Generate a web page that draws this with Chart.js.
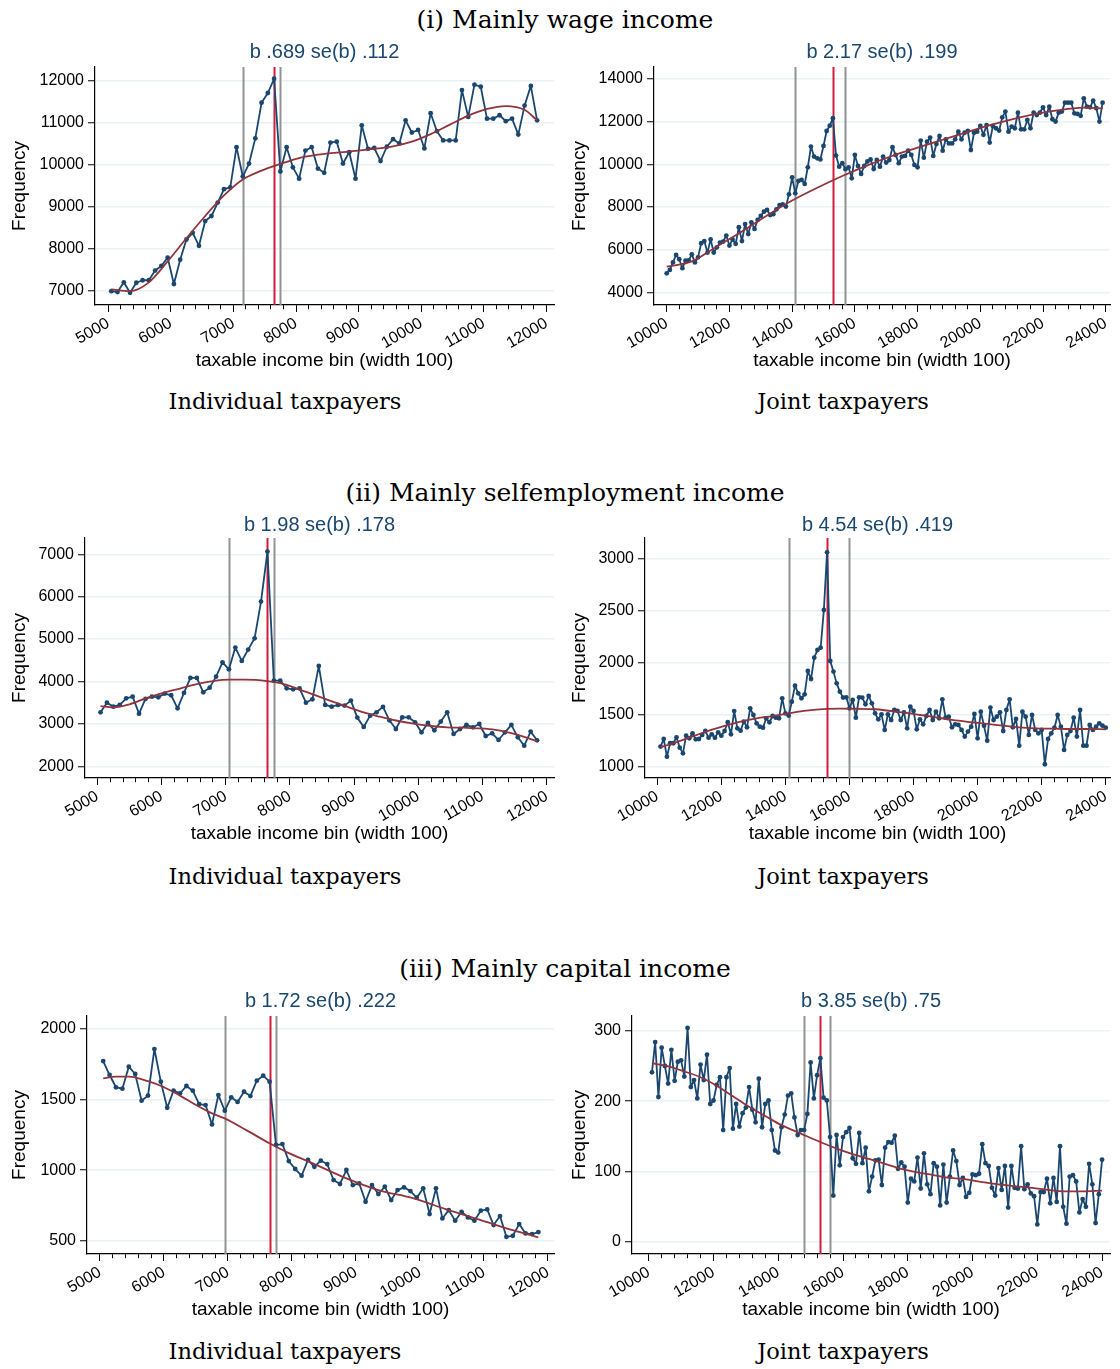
<!DOCTYPE html>
<html lang="en">
<head>
<meta charset="UTF-8">
<title>Bunching at the kink</title>
<script src="https://cdn.jsdelivr.net/npm/chart.js@4"></script>
<style>
    body { margin: 0; background: #fff; }
    .page { position: relative; width: 1120px; height: 1369px; overflow: hidden; background: #fff; }
    .sec { position: absolute; left: 0; width: 1130px; text-align: center; font-family: "DejaVu Serif", serif; font-size: 25px; line-height: 30px; color: #000; }
    .sub { position: absolute; width: 560px; text-align: center; font-family: "DejaVu Serif", serif; font-size: 22.5px; line-height: 28px; color: #000; }
    canvas { position: absolute; }
</style>
</head>
<body>
<div class="page">
    <div class="sec" style="top:5px">(i) Mainly wage income</div>
    <canvas id="wageInd" width="560" height="340" style="left:0;top:38px"></canvas>
    <canvas id="wageJoint" width="560" height="340" style="left:560px;top:38px"></canvas>
    <div class="sub" style="left:5px;top:387px">Individual taxpayers</div>
    <div class="sub" style="left:563px;top:387px">Joint taxpayers</div>

    <div class="sec" style="top:478px">(ii) Mainly selfemployment income</div>
    <canvas id="selfInd" width="560" height="340" style="left:0;top:511px"></canvas>
    <canvas id="selfJoint" width="560" height="340" style="left:560px;top:511px"></canvas>
    <div class="sub" style="left:5px;top:862px">Individual taxpayers</div>
    <div class="sub" style="left:563px;top:862px">Joint taxpayers</div>

    <div class="sec" style="top:954px">(iii) Mainly capital income</div>
    <canvas id="capInd" width="560" height="340" style="left:0;top:987px"></canvas>
    <canvas id="capJoint" width="560" height="340" style="left:560px;top:987px"></canvas>
    <div class="sub" style="left:5px;top:1337px">Individual taxpayers</div>
    <div class="sub" style="left:563px;top:1337px">Joint taxpayers</div>
</div>
<script>
// tick labels
var indivXLabels = [5000, 6000, 7000, 8000, 9000, 10000, 11000, 12000];
var jointXLabels = [10000, 12000, 14000, 16000, 18000, 20000, 22000, 24000];

// kink and excluded band (taxable income)
var kinkInd = 7650;
var kinkJoint = 15300;

// (i) wage, individual: bins start 5050, width 100
var wageIndStart = 5050;
var wageIndFreq = [6990, 6970, 7200, 6950, 7190, 7250, 7250, 7480, 7590, 7790,
    7160, 7740, 8220, 8380, 8070, 8660, 8780, 9100, 9420, 9460,
    10420, 9720, 10030, 10630, 11480, 11710, 12050, 9840, 10420, 9940,
    9670, 10340, 10420, 9910, 9810, 10530, 10550, 10030, 10300, 9670,
    10940, 10380, 10400, 10090, 10430, 10610, 10510, 11060, 10770, 10830,
    10390, 11230, 10800, 10580, 10580, 10580, 11780, 11140, 11910, 11860,
    11100, 11100, 11180, 11040, 11100, 10720, 11410, 11880, 11060];
var wageIndFitX = [5050, 5350, 5650, 5950, 6250, 6550, 6850, 7150, 7450, 7750, 8050, 8350, 8650, 8950, 9250, 9550, 9850, 10150, 10450, 10750, 11050, 11350, 11650, 11850];
var wageIndFitY = [7030, 6990, 7200, 7700, 8250, 8780, 9270, 9650, 9860, 10020, 10160, 10240, 10290, 10330, 10380, 10440, 10550, 10730, 10950, 11170, 11330, 11400, 11310, 11060];
var wageIndBand = [7150, 7750];
var wageIndTicksY = [7000, 8000, 9000, 10000, 11000, 12000];

// (i) wage, joint
var wageJointStart = 10000;
var wageJointFreq = [4890, 5050, 5400, 5750, 5550, 5130, 5480, 5500, 5780, 5400,
    5640, 6300, 6400, 5860, 6480, 5860, 6110, 6330, 6380, 6660,
    6190, 6480, 6270, 7050, 6400, 7200, 6730, 7280, 6970, 7390,
    7580, 7780, 7860, 7620, 7660, 7890, 8090, 8120, 8020, 8590,
    9390, 8640, 9220, 9270, 9080, 9860, 10830, 10360, 10280, 10230,
    10860, 11560, 11810, 12160, 10410, 9890, 10050, 9770, 9860, 9340,
    10440, 9920, 9550, 9920, 10130, 10230, 9780, 10200,
    9890, 10360, 10080, 10200, 10800, 10440, 10050, 10360, 10390, 10640,
    10440, 9970, 9860, 11110, 10310, 11060, 11250, 10390, 10950, 11330,
    10640, 11170, 10980, 10980, 11170, 11530, 11170, 11480, 11560, 10670,
    11480, 11530, 11800, 11380, 11840, 11020, 11800, 11690, 11580, 12200,
    12470, 11530, 11770, 11690, 12420, 11640, 11640, 12080, 11690, 12420,
    12310, 12420, 12670, 12310, 12700, 12110, 12000, 12420, 12470, 12890,
    12890, 12890, 12390, 12360, 12270, 13090, 12700, 12670, 12980, 12630,
    12000, 12890];
var wageJointFitX = [10000, 10800, 11600, 12400, 13200, 14000, 14800, 15600, 16400, 17200, 18000, 18800, 19600, 20400, 21200, 22000, 22800, 23400, 23900];
var wageJointFitY = [5200, 5450, 6150, 6850, 7600, 8300, 8900, 9450, 9950, 10400, 10780, 11150, 11520, 11870, 12180, 12420, 12600, 12660, 12620];
var wageJointBand = [14100, 15700];
var wageJointTicksY = [4000, 6000, 8000, 10000, 12000, 14000];

// (ii) selfemployment, individual
var selfIndStart = 5050;
var selfIndFreq = [3274, 3500, 3407, 3447, 3604, 3643, 3242, 3588, 3643, 3627,
    3714, 3675, 3368, 3730, 4083, 4083, 3745, 3855, 4115, 4453,
    4288, 4799, 4484, 4752, 5019, 5884, 7063, 4020, 4020, 3840,
    3816, 3840, 3500, 3580, 4366, 3447, 3407, 3447, 3431, 3549,
    3148, 2928, 3195, 3274, 3400, 3085, 2880, 3156, 3156, 3038,
    2802, 3022, 2849, 3054, 3274, 2763, 2880, 2975, 2920, 2998,
    2715, 2778, 2621, 2802, 2975, 2684, 2487, 2818, 2613];
var selfIndFitX = [5050, 5250, 5500, 5750, 6000, 6300, 6550, 6800, 7050, 7300, 7650, 7850, 8100, 8350, 8600, 8900, 9150, 9400, 9650, 9900, 10200, 10450, 10700, 10950, 11200, 11450, 11700, 11850];
var selfIndFitY = [3420, 3390, 3460, 3600, 3720, 3840, 3940, 4010, 4045, 4045, 4010, 3960, 3840, 3700, 3560, 3400, 3270, 3170, 3080, 3010, 2950, 2920, 2910, 2895, 2860, 2780, 2670, 2590];
var selfIndBand = [7050, 7750];
var selfIndTicksY = [2000, 3000, 4000, 5000, 6000, 7000];

// (ii) selfemployment, joint
var selfJointStart = 10100;
var selfJointFreq = [1196, 1269, 1099, 1228, 1228, 1285, 1186, 1131, 1301, 1276,
    1324, 1266, 1269, 1308, 1346, 1282, 1314, 1282, 1333, 1301,
    1346, 1430, 1314, 1538, 1372, 1349, 1436, 1381, 1564, 1500,
    1420, 1388, 1378, 1468, 1430, 1490, 1474, 1468, 1660, 1516,
    1494, 1628, 1782, 1708, 1660, 1699, 1923, 1846, 2051, 2125,
    2147, 2510, 3064, 2019, 1917, 1804, 1724, 1667, 1670, 1564,
    1644, 1474, 1670, 1667, 1603, 1683, 1612, 1516, 1458,
    1506, 1356, 1506, 1452, 1548, 1539, 1452, 1526, 1372, 1580,
    1539, 1362, 1458, 1410, 1490, 1548, 1452, 1532, 1468, 1651,
    1474, 1484, 1381, 1410, 1404, 1356, 1292, 1340, 1388, 1510,
    1276, 1532, 1397, 1253, 1571, 1452, 1484, 1526, 1346, 1548,
    1651, 1381, 1462, 1205, 1532, 1484, 1308, 1500, 1356, 1324,
    1356, 1026, 1269, 1324, 1378, 1500, 1388, 1164, 1308, 1346,
    1474, 1292, 1548, 1205, 1205, 1404, 1356, 1388, 1420, 1397,
    1378];
var selfJointFitX = [10100, 10500, 11000, 11500, 12000, 12600, 13100, 13600, 14100, 14650, 15300, 15700, 16200, 16800, 17700, 18200, 18700, 19200, 19800, 20300, 20800, 21300, 21800, 22400, 22900, 23400, 24000];
var selfJointFitY = [1190, 1228, 1282, 1338, 1385, 1436, 1468, 1490, 1516, 1542, 1558, 1561, 1560, 1555, 1522, 1500, 1478, 1452, 1430, 1414, 1397, 1381, 1372, 1368, 1365, 1365, 1362];
var selfJointBand = [14100, 16000];
var selfJointTicksY = [1000, 1500, 2000, 2500, 3000];

// (iii) capital, individual
var capIndStart = 5050;
var capIndFreq = [1773, 1674, 1587, 1577, 1733, 1681, 1492, 1528, 1858, 1627,
    1442, 1563, 1544, 1596, 1563, 1468, 1461, 1324, 1532, 1421,
    1516, 1483, 1556, 1525, 1634, 1669, 1627, 1178, 1185, 1064,
    1008, 961, 1072, 1024, 1067, 1043, 930, 902, 1001, 894,
    906, 776, 894, 831, 883, 788, 859, 878, 852, 805,
    871, 689, 871, 658, 717, 642, 705, 665, 642, 713,
    722, 611, 675, 528, 535, 618, 552, 547, 561];
var capIndFitX = [5050, 5250, 5450, 5750, 6000, 6250, 6500, 6750, 6950, 7300, 7650, 7900, 8350, 8850, 9350, 9900, 10400, 10950, 11450, 11850];
var capIndFitY = [1650, 1662, 1662, 1630, 1587, 1528, 1461, 1402, 1367, 1280, 1190, 1131, 1043, 942, 859, 800, 724, 646, 575, 524];
var capIndBand = [6950, 7750];
var capIndTicksY = [500, 1000, 1500, 2000];

// (iii) capital, joint
var capJointStart = 10100;
var capJointFreq = [241, 284, 206, 276, 250, 225, 273, 229, 256, 258,
    235, 304, 220, 230, 204, 252, 230, 266, 196, 201,
    223, 234, 159, 234, 247, 161, 196, 164, 183, 191,
    220, 188, 170, 232, 163, 196, 201, 159, 130, 127,
    163, 181, 208, 211, 177, 152, 159, 159, 182, 255,
    204, 237, 261, 205, 201, 149, 66, 152, 109, 149,
    156, 162, 119, 111, 155, 112, 134, 72, 93, 116,
    117, 81, 134, 142, 141, 151, 104, 113, 107, 56,
    90, 86, 120, 76, 126, 82, 68, 112, 107, 52,
    110, 56, 93, 130, 115, 81, 91, 64, 70, 96,
    95, 97, 139, 112, 108, 77, 66, 105, 74, 108,
    49, 108, 77, 76, 136, 75, 82, 69, 65, 25,
    71, 71, 90, 55, 91, 57, 136, 50, 26, 93,
    95, 86, 42, 61, 50, 111, 82, 27, 68, 117];
var capJointFitX = [10100, 10550, 11050, 11600, 12100, 12600, 13100, 13600, 14100, 14650, 15350, 15850, 16350, 16800, 17300, 17800, 18300, 18800, 19300, 19800, 20300, 20800, 21350, 21850, 22350, 22850, 23400, 24000];
var capJointFitY = [254, 250, 243, 234, 222, 207, 192, 179, 166, 155, 141, 132, 124, 118, 111, 104, 99, 95, 91, 89, 85, 82, 79, 77, 74, 72, 72, 73];
var capJointBand = [14800, 15600];
var capJointTicksY = [0, 100, 200, 300];

var navy = '#1a476f';
var maroon = '#90353b';
var kinkRed = '#d01c3a';
var bandGray = '#939393';
var sans = "'Liberation Sans', Arial, sans-serif";

// vertical lines at the kink and the excluded band
var vlinePlugin = {
    id: 'vlines',
    beforeDatasetsDraw: function (chart, args, opts) {
        var ctx = chart.ctx, area = chart.chartArea, x = chart.scales.x;
        (opts.lines || []).forEach(function (l) {
            var px = Math.round(x.getPixelForValue(l.value)) + 0.5;
            ctx.save();
            ctx.strokeStyle = l.color;
            ctx.lineWidth = l.width;
            ctx.beginPath();
            ctx.moveTo(px, area.top);
            ctx.lineTo(px, area.bottom);
            ctx.stroke();
            ctx.restore();
        });
    }
};

function binPoints(start, values) {
    return values.map(function (v, i) { return { x: start + 100 * i, y: v }; });
}
function fitPoints(xs, ys) {
    return xs.map(function (x, i) { return { x: x, y: ys[i] }; });
}

function makePanel(id, p) {
    var xTicks = [];
    for (var v = p.xLabels[0]; v <= p.xLabels[p.xLabels.length - 1]; v += p.xStep) xTicks.push(v);
    var isMajor = function (val) { return p.xLabels.indexOf(val) >= 0; };

    return new Chart(document.getElementById(id), {
        type: 'line',
        data: {
            datasets: [{
                data: fitPoints(p.fitX, p.fitY),
                borderColor: maroon,
                borderWidth: 1.8,
                pointRadius: 0,
                cubicInterpolationMode: 'monotone'
            }, {
                data: binPoints(p.start, p.freq),
                borderColor: navy,
                backgroundColor: navy,
                borderWidth: 1.8,
                borderJoinStyle: 'round',
                pointRadius: 2.4,
                pointBorderWidth: 0
            }]
        },
        options: {
            responsive: false,
            animation: false,
            events: [],
            layout: { padding: { left: 0, right: p.padRight, top: 0, bottom: 0 } },
            plugins: {
                legend: { display: false },
                tooltip: { enabled: false },
                title: {
                    display: true, text: p.title, color: navy, fullSize: false,
                    font: { family: sans, size: 20, weight: 'normal' },
                    padding: { top: 2, bottom: p.titleGap }
                },
                vlines: {
                    lines: [
                        { value: p.band[0], color: bandGray, width: 2 },
                        { value: p.band[1], color: bandGray, width: 2 },
                        { value: p.kink, color: kinkRed, width: 2 }
                    ]
                }
            },
            scales: {
                x: {
                    type: 'linear', min: p.xMin, max: p.xMax,
                    afterBuildTicks: function (s) { s.ticks = xTicks.map(function (t) { return { value: t }; }); },
                    afterFit: function (s) { s.height = 73; },
                    ticks: {
                        autoSkip: false, minRotation: 30, maxRotation: 30, padding: 2,
                        color: '#000', font: { family: sans, size: 16 },
                        callback: function (val) { return isMajor(val) ? String(val) : ''; }
                    },
                    grid: {
                        drawOnChartArea: false, drawTicks: true, tickLength: 7, tickColor: '#000', tickWidth: 1,
                        // minor ticks are shorter
                        tickBorderDash: function (c) { return c.tick && isMajor(c.tick.value) ? [] : [4, 40]; }
                    },
                    border: { display: true, color: '#000', width: 1.2 },
                    title: {
                        display: true, text: 'taxable income bin (width 100)', color: '#000',
                        font: { family: sans, size: 19 }, padding: { top: 0, bottom: 6 }
                    }
                },
                y: {
                    min: p.yMin, max: p.yMax,
                    afterBuildTicks: function (s) { s.ticks = p.yTicks.map(function (t) { return { value: t }; }); },
                    afterFit: function (s) { s.width = p.yWidth; },
                    ticks: { color: '#000', font: { family: sans, size: 16 }, padding: 4, callback: function (val) { return String(val); } },
                    grid: { color: '#eaf1f4', lineWidth: 1.5, tickLength: 7, tickColor: '#000', tickWidth: 1 },
                    border: { display: true, color: '#000', width: 1.2 },
                    title: {
                        display: true, text: 'Frequency', color: '#000',
                        font: { family: sans, size: 19 }, padding: { top: 8, bottom: 0 }
                    }
                }
            }
        },
        plugins: [vlinePlugin]
    });
}

makePanel('wageInd', {
    title: 'b .689 se(b) .112', start: wageIndStart, freq: wageIndFreq, fitX: wageIndFitX, fitY: wageIndFitY,
    kink: kinkInd, band: wageIndBand, xLabels: indivXLabels, xStep: 200, xMin: 4790, xMax: 12120,
    yTicks: wageIndTicksY, yMin: 6660, yMax: 12330, yWidth: 95, padRight: 6, titleGap: 3
});
makePanel('wageJoint', {
    title: 'b 2.17 se(b) .199', start: wageJointStart, freq: wageJointFreq, fitX: wageJointFitX, fitY: wageJointFitY,
    kink: kinkJoint, band: wageJointBand, xLabels: jointXLabels, xStep: 400, xMin: 9595, xMax: 24136,
    yTicks: wageJointTicksY, yMin: 3405, yMax: 14560, yWidth: 94, padRight: 10, titleGap: 3
});
makePanel('selfInd', {
    title: 'b 1.98 se(b) .178', start: selfIndStart, freq: selfIndFreq, fitX: selfIndFitX, fitY: selfIndFitY,
    kink: kinkInd, band: selfIndBand, xLabels: indivXLabels, xStep: 200, xMin: 4808, xMax: 12114,
    yTicks: selfIndTicksY, yMin: 1724, yMax: 7384, yWidth: 85, padRight: 6, titleGap: 1
});
makePanel('selfJoint', {
    title: 'b 4.54 se(b) .419', start: selfJointStart, freq: selfJointFreq, fitX: selfJointFitX, fitY: selfJointFitY,
    kink: kinkJoint, band: selfJointBand, xLabels: jointXLabels, xStep: 400, xMin: 9616, xMax: 24134,
    yTicks: selfJointTicksY, yMin: 894, yMax: 3202, yWidth: 85, padRight: 10, titleGap: 1
});
makePanel('capInd', {
    title: 'b 1.72 se(b) .222', start: capIndStart, freq: capIndFreq, fitX: capIndFitX, fitY: capIndFitY,
    kink: kinkInd, band: capIndBand, xLabels: indivXLabels, xStep: 200, xMin: 4797, xMax: 12094,
    yTicks: capIndTicksY, yMin: 406, yMax: 2092, yWidth: 87, padRight: 6, titleGap: 3
});
makePanel('capJoint', {
    title: 'b 3.85 se(b) .75', start: capJointStart, freq: capJointFreq, fitX: capJointFitX, fitY: capJointFitY,
    kink: kinkJoint, band: capJointBand, xLabels: jointXLabels, xStep: 400, xMin: 9484, xMax: 24245,
    yTicks: capJointTicksY, yMin: -17, yMax: 321, yWidth: 72, padRight: 10, titleGap: 3
});
</script>
</body>
</html>
